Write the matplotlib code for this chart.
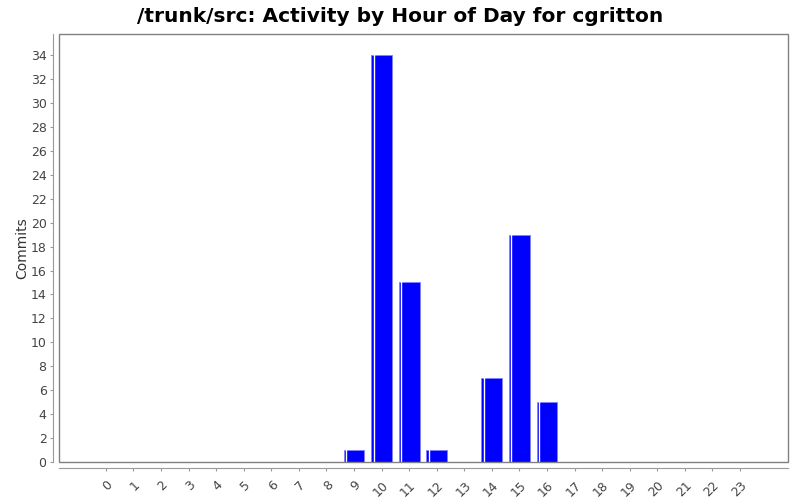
import matplotlib
matplotlib.use("Agg")
import matplotlib.pyplot as plt
from matplotlib.patches import Rectangle

hours = [str(h) for h in range(24)]
commits = [0, 0, 0, 0, 0, 0, 0, 0, 0, 1, 34, 15, 1, 0, 7, 19, 5, 0, 0, 0, 0, 0, 0, 0]
yticks = list(range(0, 35, 2))

fig = plt.figure(figsize=(8, 5), dpi=100)
ax = fig.add_axes([59 / 800, 38 / 500, 729 / 800, 428 / 500])

# axis lines sit a little away from the plot border
ax.spines["top"].set_visible(False)
ax.spines["right"].set_visible(False)
for side in ("left", "bottom"):
    ax.spines[side].set_position(("outward", 4))
    ax.spines[side].set_color("#999999")
    ax.spines[side].set_linewidth(0.8)

x = list(range(len(hours)))
bar_w = 0.76
lws = [0.6 if v > 0 else 0 for v in commits]
ax.bar(x, commits, width=bar_w, color="#0000ff", edgecolor="#8080ff", linewidth=lws, zorder=2)
# white highlight stripe near the left edge of each bar
for xi, v in zip(x, commits):
    if v > 0:
        ax.plot([xi - bar_w / 2 + 0.09] * 2, [0, v], color="white", lw=1.0, zorder=3)

ax.set_xlim(-1.7, 24.74)
ax.set_ylim(0, 35.76)
ax.set_xticks(x)
ax.set_xticklabels(hours, rotation=45, ha="right", rotation_mode="anchor")
ax.set_yticks(yticks)
ax.set_yticklabels([str(t) for t in yticks])

# plot border
ax.add_patch(Rectangle((0, 0), 1, 1, transform=ax.transAxes, fill=False,
                       edgecolor="#808080", lw=1.0, clip_on=False, zorder=4))

ax.tick_params(axis="both", colors="#999999", labelcolor="#444444", labelsize=9, length=2, width=0.8)
ax.tick_params(axis="y", pad=3)
ax.tick_params(axis="x", pad=6)

ax.set_ylabel("Commits", fontsize=10, color="#333333", labelpad=1)
fig.suptitle("/trunk/src: Activity by Hour of Day for cgritton", fontsize=14.5, fontweight="bold", y=0.985)

fig.savefig("out.png", dpi=100)
